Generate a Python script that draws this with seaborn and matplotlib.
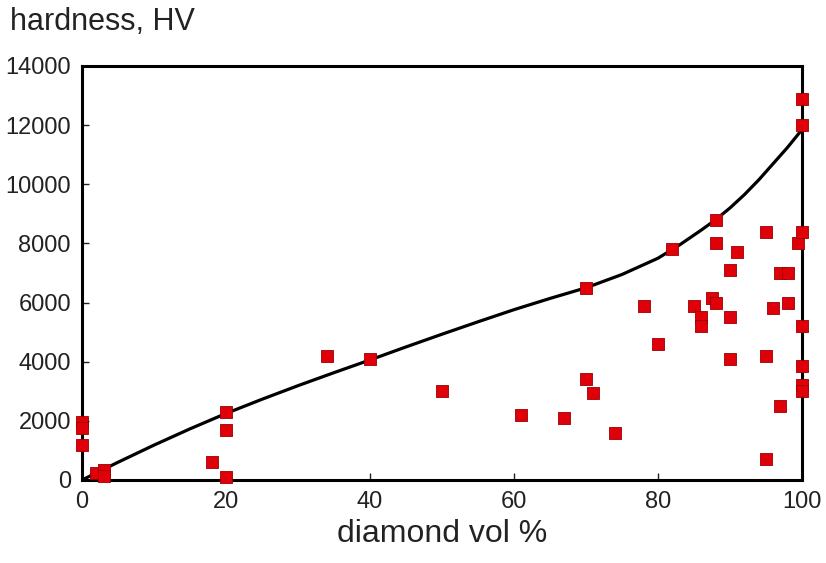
import matplotlib
matplotlib.use("Agg")
import matplotlib.pyplot as plt
import seaborn as sns
import pandas as pd

# Measured hardness vs. diamond content
diamond_vol = [0, 0, 0, 2, 3, 3, 18, 20, 20, 20, 34, 40, 50, 61, 67, 70, 70, 71, 74,
               78, 80, 82, 85, 86, 86, 87.5, 88, 88, 88, 90, 90, 90, 91, 95, 95, 95,
               96, 97, 98, 98, 97, 99.5, 100, 100, 100, 100, 100, 100, 100]
hardness = [1950, 1750, 1200, 250, 350, 150, 600, 2300, 1700, 100, 4200, 4100, 3000,
            2200, 2100, 6500, 3400, 2950, 1600, 5900, 4600, 7800, 5900, 5500, 5200,
            6150, 6000, 8800, 8000, 7100, 5500, 4100, 7700, 8400, 4200, 700, 5800,
            7000, 7000, 6000, 2500, 8000, 8400, 12900, 12000, 5200, 3850, 3200, 3000]

# Model curve
curve_vol = [0, 5, 10, 15, 20, 25, 30, 35, 40, 45, 50, 55, 60, 65, 70, 75, 80,
             83, 86, 88, 90, 92, 94, 96, 98, 100]
curve_hv = [0, 600, 1180, 1730, 2250, 2730, 3190, 3630, 4060, 4500, 4930, 5350,
            5760, 6140, 6500, 6950, 7500, 7950, 8450, 8800, 9200, 9650, 10150,
            10700, 11250, 11850]

x_ticks = [0, 20, 40, 60, 80, 100]
y_ticks = [0, 2000, 4000, 6000, 8000, 10000, 12000, 14000]

pts = pd.DataFrame({"vol": diamond_vol, "hv": hardness})
crv = pd.DataFrame({"vol": curve_vol, "hv": curve_hv})

sns.set_style("ticks")
plt.rcParams["font.family"] = ["Liberation Sans", "DejaVu Sans"]

fig = plt.figure(figsize=(8.26, 5.63), dpi=100)
ax = fig.add_axes([82 / 826, 1 - 480 / 563, 720 / 826, 414 / 563])

sns.lineplot(data=crv, x="vol", y="hv", ax=ax, color="black", linewidth=2.3,
             sort=True, zorder=2)
sns.scatterplot(data=pts, x="vol", y="hv", ax=ax, marker="s", s=72,
                color="#e0000a", edgecolor="#9a0000", linewidth=0.6,
                zorder=3, clip_on=False)

ax.set_xlim(0, 100)
ax.set_ylim(0, 14000)
ax.set_xticks(x_ticks)
ax.set_yticks(y_ticks)
ax.tick_params(direction="in", length=5, width=1, labelsize=17,
               colors="#222222", pad=8)
for s in ax.spines.values():
    s.set_visible(True)
    s.set_linewidth(2.2)
    s.set_color("black")

ax.set_xlabel("diamond vol %", fontsize=23, color="#222222", labelpad=4)
ax.set_ylabel("")
fig.text(10 / 826, 1 - 22 / 563, "hardness, HV", fontsize=22, color="#222222",
         ha="left", va="center")

fig.savefig("out.png", dpi=100)
